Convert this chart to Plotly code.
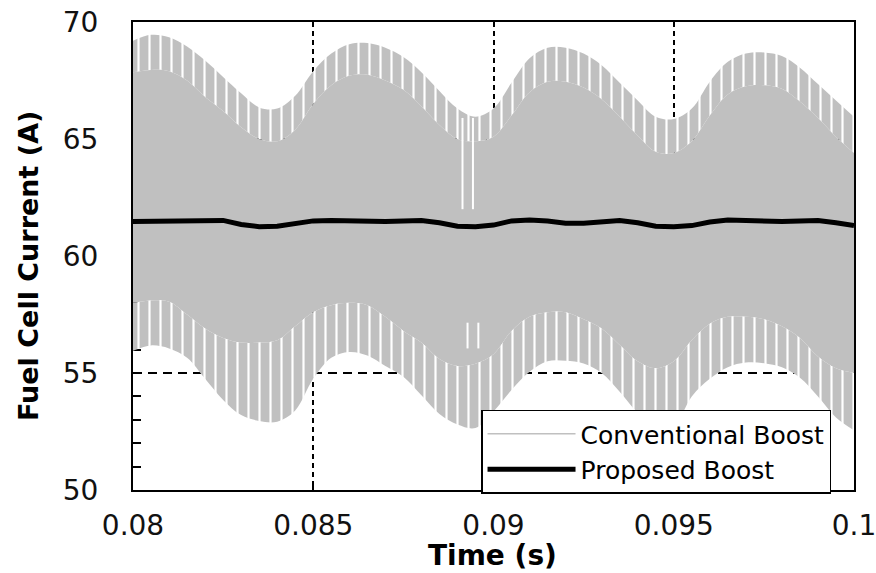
import plotly.graph_objects as go

# Sample times (s)
t = [0.0800, 0.0805, 0.0810, 0.0815, 0.0820, 0.0825, 0.0830, 0.0835, 0.0840, 0.0845,
     0.0850, 0.0855, 0.0860, 0.0865, 0.0870, 0.0875, 0.0880, 0.0885, 0.0890, 0.0895,
     0.0900, 0.0905, 0.0910, 0.0915, 0.0920, 0.0925, 0.0930, 0.0935, 0.0940, 0.0945,
     0.0950, 0.0955, 0.0960, 0.0965, 0.0970, 0.0975, 0.0980, 0.0985, 0.0990, 0.0995,
     0.1000]

# Conventional boost: ripple peak envelope (A)
conv_max = [69.20, 69.45, 69.35, 68.95, 68.35, 67.65, 66.95, 66.35, 66.30, 66.85,
            67.90, 68.65, 69.05, 69.10, 68.90, 68.50, 67.85, 67.05, 66.30, 65.95,
            66.30, 67.40, 68.45, 68.90, 68.90, 68.65, 68.15, 67.40, 66.65, 65.95,
            65.85, 66.30, 67.45, 68.30, 68.65, 68.70, 68.55, 68.05, 67.35, 66.65,
            65.95]
# Conventional boost: lowest of the sampled peaks (A)
conv_max_low = [67.85, 67.95, 67.90, 67.50, 66.80, 66.20, 65.50, 65.00, 64.90, 65.40,
                66.50, 67.30, 67.70, 67.75, 67.50, 67.10, 66.40, 65.60, 65.00, 64.90,
                65.10, 66.00, 67.00, 67.45, 67.45, 67.20, 66.70, 65.95, 65.15, 64.45,
                64.40, 64.90, 66.00, 66.90, 67.25, 67.30, 67.15, 66.60, 65.90, 65.10,
                64.40]
# Conventional boost: highest of the sampled valleys (A)
conv_min_high = [58.00, 58.10, 58.05, 57.50, 56.90, 56.50, 56.30, 56.30, 56.40, 57.00,
                 57.60, 57.90, 58.00, 57.90, 57.40, 56.80, 56.30, 55.60, 55.30, 55.40,
                 55.80, 56.80, 57.40, 57.60, 57.60, 57.30, 56.90, 56.20, 55.50, 55.20,
                 55.50, 56.40, 57.10, 57.40, 57.40, 57.30, 57.00, 56.50, 55.70, 55.20,
                 55.00]
# Conventional boost: ripple valley envelope (A)
conv_min = [55.95, 56.18, 56.05, 55.65, 54.75, 53.85, 53.20, 52.95, 52.92, 53.40,
            54.75, 55.65, 55.90, 55.75, 55.30, 54.84, 54.05, 53.25, 52.80, 52.65,
            53.35, 54.27, 55.05, 55.50, 55.52, 55.41, 55.00, 54.20, 53.30, 52.70,
            52.75, 54.00, 54.75, 55.25, 55.45, 55.42, 55.25, 54.80, 54.00, 53.10,
            52.55]

# Two missed switching cycles near t = 0.0893 s
gap_t_top = [0.08914, 0.08943]
gap_top = [65.9, 62.0]
gap_t_bottom = [0.08928, 0.08958]
gap_bottom = [57.15, 56.05]

# Proposed boost: fuel cell current (A)
prop = [61.47, 61.47, 61.47, 61.47, 61.52, 61.52, 61.35, 61.25, 61.27, 61.38,
        61.50, 61.52, 61.50, 61.45, 61.47, 61.50, 61.52, 61.42, 61.27, 61.25,
        61.32, 61.50, 61.54, 61.50, 61.40, 61.40, 61.48, 61.52, 61.42, 61.27,
        61.25, 61.30, 61.45, 61.54, 61.52, 61.48, 61.47, 61.50, 61.52, 61.42,
        61.30]

x_ticks = [0.08, 0.085, 0.09, 0.095, 0.1]
x_labels = ["0.08", "0.085", "0.09", "0.095", "0.1"]
y_ticks = [50, 55, 60, 65, 70]
y_labels = ["50", "55", "60", "65", "70"]

GRAY = "#c0c0c0"
FONT = "DejaVu Sans"
stripes = dict(shape="|", fgcolor="white", bgcolor=GRAY, fgopacity=1,
               size=11, solidity=0.2, fillmode="replace")

fig = go.Figure()

# Conventional boost ripple band: striped peak zone, solid core, striped valley zone
fig.add_trace(go.Scatter(x=t, y=conv_max, mode="lines", line=dict(width=0, shape="spline"),
                         showlegend=False, hoverinfo="skip"))
fig.add_trace(go.Scatter(x=t, y=conv_max_low, mode="lines", line=dict(width=0, shape="spline"),
                         fill="tonexty", fillcolor=GRAY, fillpattern=stripes,
                         showlegend=False, hoverinfo="skip"))
fig.add_trace(go.Scatter(x=t, y=conv_min_high, mode="lines", line=dict(width=0, shape="spline"),
                         fill="tonexty", fillcolor=GRAY,
                         showlegend=False, hoverinfo="skip"))
fig.add_trace(go.Scatter(x=t, y=conv_min, mode="lines", line=dict(width=0, shape="spline"),
                         fill="tonexty", fillcolor=GRAY, fillpattern=stripes,
                         showlegend=False, hoverinfo="skip"))

# Missed cycles
gx, gy = [], []
for tt in gap_t_top:
    gx += [tt, tt, None]
    gy += gap_top + [None]
for tt in gap_t_bottom:
    gx += [tt, tt, None]
    gy += gap_bottom + [None]
fig.add_trace(go.Scatter(x=gx, y=gy, mode="lines", line=dict(color="white", width=2),
                         showlegend=False, hoverinfo="skip"))

# Legend entries
fig.add_trace(go.Scatter(x=[None], y=[None], mode="lines", name="Conventional Boost",
                         line=dict(color=GRAY, width=1.5)))
fig.add_trace(go.Scatter(x=t, y=prop, mode="lines", name="Proposed Boost",
                         line=dict(color="black", width=5)))

axis_common = dict(
    showline=True, linecolor="black", linewidth=2, mirror=True,
    ticks="inside", ticklen=8, tickwidth=1.5, tickcolor="black",
    showgrid=True, gridcolor="black", gridwidth=1.5,
    zeroline=False, layer="below traces", automargin=False,
    ticklabeloverflow="allow",
    tickfont=dict(family=FONT, size=28, color="#111111"),
)

fig.update_xaxes(range=[0.08, 0.1000001], tickvals=x_ticks, ticktext=x_labels,
                 griddash="5px,4px", ticklabelstandoff=9, **axis_common)
fig.update_yaxes(range=[50, 70], tickvals=y_ticks, ticktext=y_labels,
                 griddash="9px,6px", ticklabelstandoff=27,
                 minor=dict(dtick=1, ticks="inside", ticklen=8, tickwidth=1.5,
                            tickcolor="black", showgrid=False),
                 **axis_common)

fig.update_layout(
    width=876, height=573,
    margin=dict(l=133, r=22, t=22, b=83, autoexpand=False),
    paper_bgcolor="white", plot_bgcolor="white",
    showlegend=True,
    legend=dict(x=0.4827, y=0.172, xanchor="left", yanchor="top",
                traceorder="normal",
                bgcolor="white", bordercolor="black", borderwidth=1.5,
                font=dict(family=FONT, size=25, color="black"),
                itemwidth=88, tracegroupgap=0),
    annotations=[
        dict(text="<b>Fuel Cell Current (A)</b>", xref="paper", yref="paper",
             x=-0.1456, y=0.4786, xanchor="center", yanchor="middle",
             textangle=-90, showarrow=False,
             font=dict(family=FONT, size=27, color="black")),
        dict(text="<b>Time (s)</b>", xref="paper", yref="paper",
             x=0.498, y=-0.1389, xanchor="center", yanchor="middle",
             showarrow=False, font=dict(family=FONT, size=28, color="black")),
    ],
)

fig.write_html("out.html")
